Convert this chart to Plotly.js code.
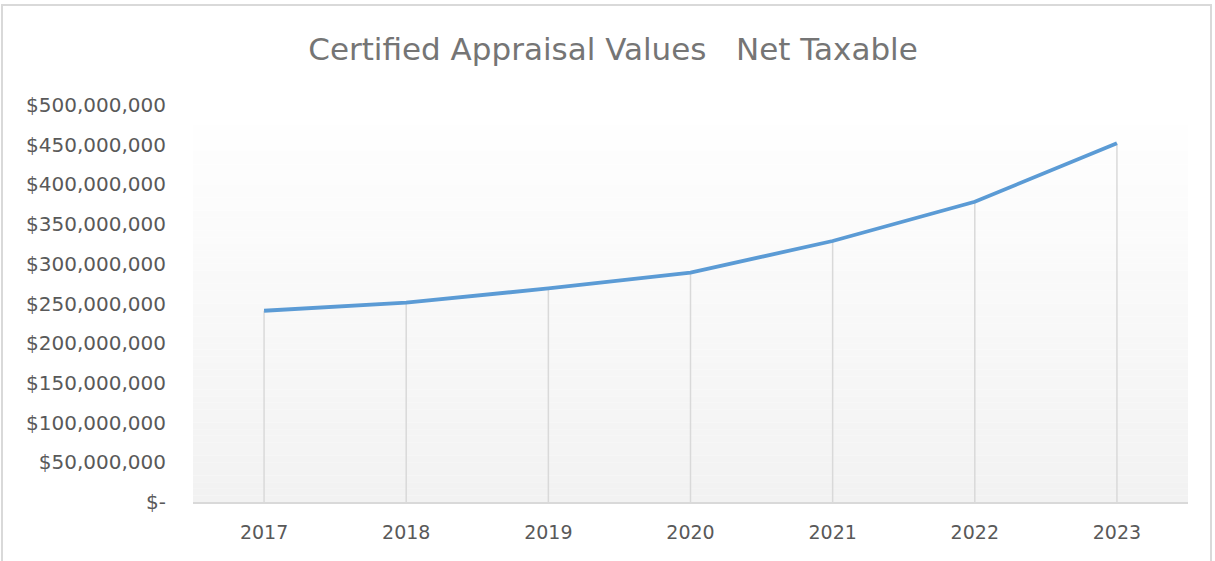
<!DOCTYPE html>
<html>
<head>
<meta charset="utf-8">
<script src="https://cdn.plot.ly/plotly-3.0.1.min.js"></script>
<style>
  html, body { margin: 0; padding: 0; background: #ffffff; }
  #wrap { position: relative; width: 1215px; height: 561px; }
  #chart { position: absolute; left: 0; top: 0; width: 1215px; height: 561px; }
  #frame { position: absolute; left: 1px; top: 4px; width: 1211px; height: 570px;
           border: 2px solid #d9d9d9; box-sizing: border-box; pointer-events: none; }
</style>
</head>
<body>
<div id="wrap">
  <div id="chart"></div>
  <div id="frame"></div>
</div>
<script>
const years = ["2017", "2018", "2019", "2020", "2021", "2022", "2023"];
const netTaxable = [240900000, 251000000, 269000000, 288800000, 328700000, 378200000, 451800000];
const yTickVals = [0, 50000000, 100000000, 150000000, 200000000, 250000000, 300000000, 350000000, 400000000, 450000000, 500000000];
const yTickText = ["$-", "$50,000,000", "$100,000,000", "$150,000,000", "$200,000,000", "$250,000,000",
                   "$300,000,000", "$350,000,000", "$400,000,000", "$450,000,000", "$500,000,000"];

// drop lines from each point to the axis
const dropX = [], dropY = [];
years.forEach((yr, i) => { dropX.push(yr, yr, null); dropY.push(0, netTaxable[i], null); });

// gradient plot background (white top -> light gray bottom)
const shapes = [];
const N = 60;
for (let i = 0; i < N; i++) {
  const t = i / (N - 1);          // 0 bottom -> 1 top
  const c = Math.round(242 + (255 - 242) * t);
  shapes.push({
    type: "rect", xref: "paper", yref: "paper",
    x0: 0, x1: 1, y0: i / N, y1: (i + 1) / N,
    fillcolor: `rgb(${c},${c},${c})`, line: { width: 0 }, layer: "below"
  });
}

const yTickFont = { family: "DejaVu Sans, Open Sans, sans-serif", size: 20, color: "#595959" };
const xTickFont = { family: "DejaVu Sans, Open Sans, sans-serif", size: 19, color: "#595959" };

const data = [
  {
    x: dropX, y: dropY, type: "scatter", mode: "lines",
    line: { color: "#d9d9d9", width: 1.5 }, hoverinfo: "skip", showlegend: false
  },
  {
    x: years, y: netTaxable, type: "scatter", mode: "lines",
    line: { color: "#5B9BD5", width: 3.8 }, name: "Net Taxable", showlegend: false
  }
];

const layout = {
  width: 1215, height: 561,
  margin: { l: 193, r: 27, t: 105, b: 59 },
  paper_bgcolor: "rgba(0,0,0,0)",
  plot_bgcolor: "rgba(0,0,0,0)",
  title: {
    text: "Certified Appraisal Values   Net Taxable",
    font: { family: "DejaVu Sans, sans-serif", size: 31, color: "#757575" },
    x: 613 / 1215, xanchor: "center", xref: "container",
    y: 1 - 49 / 561, yanchor: "middle", yref: "container"
  },
  xaxis: {
    type: "category", range: [-0.5, 6.5],
    showgrid: false, zeroline: false,
    showline: true, linecolor: "#d9d9d9", linewidth: 2,
    ticks: "", tickfont: xTickFont, ticklabelstandoff: 12
  },
  yaxis: {
    range: [0, 500000000],
    tickvals: yTickVals, ticktext: yTickText,
    showgrid: false, zeroline: false, showline: false,
    ticks: "", tickfont: yTickFont, ticklabelstandoff: 26
  },
  shapes: shapes,
  showlegend: false
};

Plotly.newPlot("chart", data, layout, { displayModeBar: false, staticPlot: true });
</script>
</body>
</html>
